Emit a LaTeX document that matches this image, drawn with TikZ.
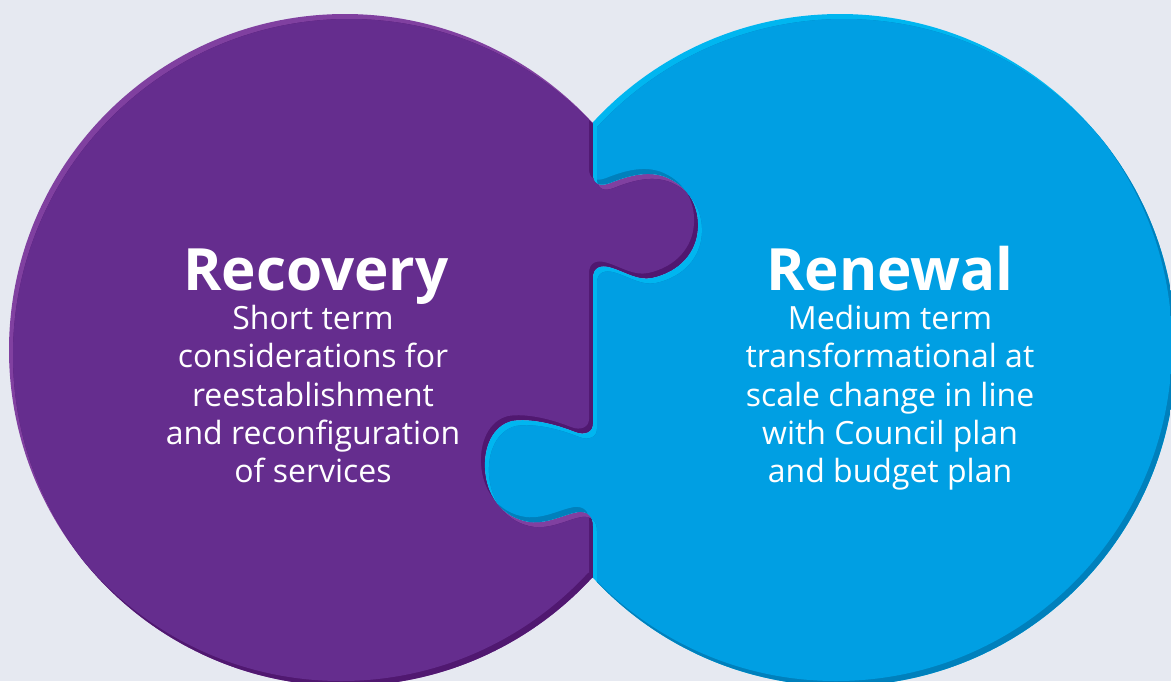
\documentclass[tikz,border=0pt]{standalone}
\usepackage{fontspec}
\setmainfont{Open Sans}

\definecolor{bgcol}{RGB}{230,233,241}
\definecolor{recmain}{RGB}{101,45,142}
\definecolor{reclight}{RGB}{128,64,160}
\definecolor{recdark}{RGB}{80,24,112}
\definecolor{renmain}{RGB}{0,159,227}
\definecolor{renlight}{RGB}{0,182,240}
\definecolor{rendark}{RGB}{0,128,188}

\newcommand{\seam}{(593,-100) -- (593,174)
  .. controls (593,184) and (600,187) .. (610,183)
  .. controls (630,175) and (650,170) .. (668,178)
  .. controls (690,188) and (699,208) .. (698,228)
  .. controls (697,252) and (680,272) .. (652,278)
  .. controls (638,281) and (625,272) .. (612,268)
  .. controls (600,264) and (593,268) .. (593,278)
  -- (593,424)
  .. controls (593,432) and (585,436) .. (575,432)
  .. controls (555,424) and (530,418) .. (512,421)
  .. controls (492,426) and (484,448) .. (485,468)
  .. controls (486,495) and (502,518) .. (530,522)
  .. controls (548,524) and (565,514) .. (578,512)
  .. controls (588,511) and (593,516) .. (593,526)
  -- (593,800)}

\newcommand{\puzzlepiece}[4]{%
  \begin{scope}
    #1 \fill[#2] (-200,-100) rectangle (1400,800);
    \begin{scope}[shift={(4,5)}]
      #1 \fill[#3] (-200,-100) rectangle (1400,800);
      \begin{scope}[shift={(-8,-10)}]
        #1 \fill[#4] (-200,-100) rectangle (1400,800);
      \end{scope}
    \end{scope}
  \end{scope}}

\begin{document}
\begin{tikzpicture}[x=0.02cm,y=-0.02cm,
  heading/.style={text=white,inner sep=0pt,anchor=base,
    font=\fontsize{33.2pt}{40pt}\selectfont\bfseries},
  blurb/.style={text=white,inner sep=0pt,anchor=north,align=center,
    font=\fontsize{18.2pt}{21.8pt}\selectfont}]
  \useasboundingbox (0,0) rectangle (1171,681);
  \fill[bgcol] (0,0) rectangle (1171,681);

  \puzzlepiece{\clip (345,350) circle (336) (840,350) circle (336);
    \clip (-200,-100) -- \seam -- (-200,800) -- cycle;}{reclight}{recdark}{recmain}
  \puzzlepiece{\clip (345,350) circle (336) (840,350) circle (336);
    \clip (1400,-100) -- \seam -- (1400,800) -- cycle;}{renlight}{rendark}{renmain}

  \node[heading] (recovery) at (316,290) {Recovery};
  \node[blurb] (recoverytext) at (313,305) {Short term\\considerations for\\reestablishment\\and reconfiguration\\of services};
  \node[heading] (renewal) at (890,290) {Renewal};
  \node[blurb] (renewaltext) at (890,305) {Medium term\\transformational at\\scale change in line\\with Council plan\\and budget plan};
\end{tikzpicture}
\end{document}
